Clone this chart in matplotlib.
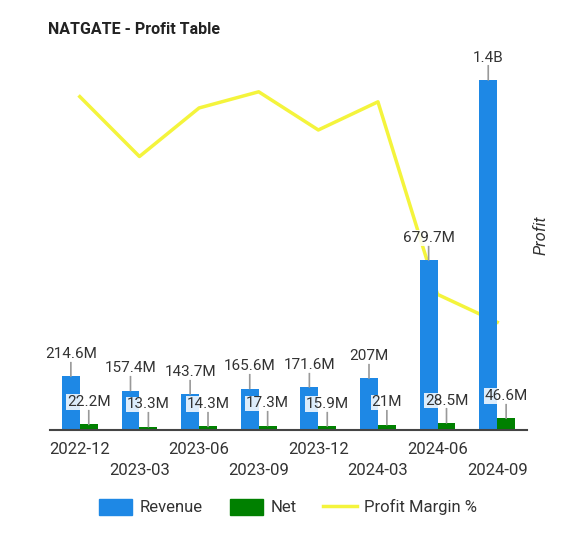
import matplotlib.pyplot as plt
from matplotlib.patches import Patch
from matplotlib.lines import Line2D
import numpy as np

plt.rcParams['font.family'] = ['Roboto', 'DejaVu Sans']

# data (values in USD)
quarters = ['2022-12', '2023-03', '2023-06', '2023-09',
            '2023-12', '2024-03', '2024-06', '2024-09']
revenue = [214.6e6, 157.4e6, 143.7e6, 165.6e6, 171.6e6, 207e6, 679.7e6, 1.4e9]
net = [22.2e6, 13.3e6, 14.3e6, 17.3e6, 15.9e6, 21e6, 28.5e6, 46.6e6]
margin = [10.3, 8.45, 9.95, 10.45, 9.27, 10.14, 4.19, 3.33]

c_rev = '#1E88E5'
c_net = '#008000'
c_line = '#F4F43C'


def fmt(v):
    """short money label: 214.6M, 207M, 1.4B"""
    if v >= 1e9:
        s, u = '%.1f' % (v / 1e9), 'B'
    else:
        s, u = '%.1f' % (v / 1e6), 'M'
    if s.endswith('.0'):
        s = s[:-2]
    return s + u


fig = plt.figure(figsize=(5.76, 5.54), dpi=100)
ax = fig.add_axes([50 / 576, 124 / 554, 477 / 576, 390 / 554])

x = np.arange(len(quarters))
w = 0.3
ax.bar(x - w / 2, revenue, w, color=c_rev, zorder=2)
ax.bar(x + w / 2, net, w, color=c_net, zorder=2)

for xi, r, n in zip(x, revenue, net):
    for xx, v in ((xi - w / 2, r), (xi + w / 2, n)):
        ax.annotate(fmt(v), xy=(xx, v), xytext=(0, 11), textcoords='offset points',
                    ha='center', va='bottom', fontsize=11, color='#333333',
                    bbox=dict(boxstyle='square,pad=0.05', fc='white', ec='none', alpha=0.85),
                    arrowprops=dict(arrowstyle='-', color='#999999', lw=1.2,
                                    shrinkA=0, shrinkB=0), zorder=4)

ax.set_xlim(-0.5, len(quarters) - 0.5)
ax.set_ylim(0, 1.56e9)
ax.set_yticks([])
for s in ['top', 'right', 'left']:
    ax.spines[s].set_visible(False)
ax.spines['bottom'].set_color('#444444')
ax.spines['bottom'].set_linewidth(1.5)

# alternate the quarter labels on two rows
ax.set_xticks(x[::2], quarters[::2])
ax.set_xticks(x[1::2], quarters[1::2], minor=True)
ax.tick_params(axis='x', which='major', length=0, pad=9, labelsize=12, labelcolor='#333333')
ax.tick_params(axis='x', which='minor', length=0, pad=24, labelsize=12, labelcolor='#333333')

ax2 = ax.twinx()
ax2.plot(x, margin, color=c_line, lw=2.5, zorder=5)
ax2.set_ylim(0, 12.05)
ax2.set_yticks([])
for s in ax2.spines.values():
    s.set_visible(False)
ax2.set_ylabel('Profit', style='italic', fontsize=12, color='#333333', labelpad=5)
ax.set_zorder(ax2.get_zorder() + 1)
ax.patch.set_visible(False)

fig.text(48 / 576, 1 - 30 / 554, 'NATGATE - Profit Table', fontsize=11.5, fontweight='bold',
         color='#222222', va='center', ha='left')

handles = [Patch(color=c_rev), Patch(color=c_net), Line2D([], [], color=c_line, lw=2.5)]
fig.legend(handles, ['Revenue', 'Net', 'Profit Margin %'], loc='center',
           bbox_to_anchor=(288 / 576, 1 - 507 / 554), ncol=3, frameon=False,
           fontsize=12, handlelength=2.0, handleheight=1.1, handletextpad=0.45,
           columnspacing=1.6, labelcolor='#333333')

fig.savefig('out.png', dpi=100)
